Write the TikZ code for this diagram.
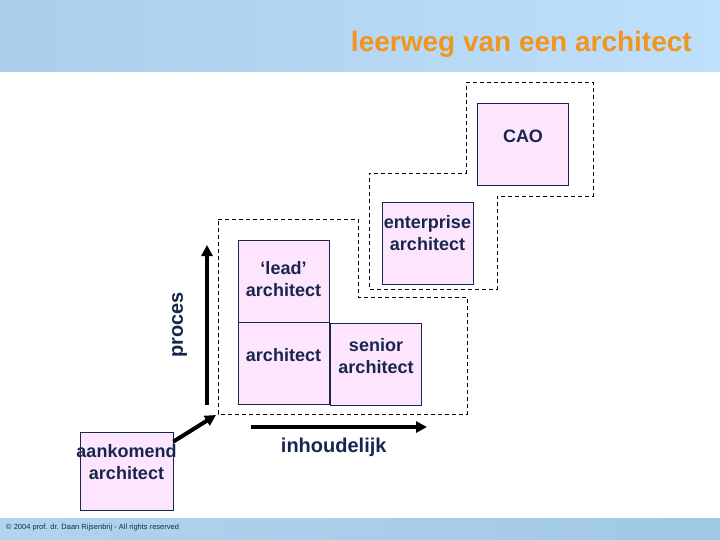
\documentclass[tikz,border=0pt]{standalone}
\usepackage{fontspec}
\setmainfont{Liberation Sans}
\usetikzlibrary{arrows.meta}
\definecolor{navy}{RGB}{24,38,78}
\definecolor{roze}{RGB}{253,229,253}
\definecolor{oranje}{RGB}{240,150,30}
\definecolor{luchtA}{RGB}{172,206,236}
\definecolor{luchtB}{RGB}{190,224,252}
\definecolor{voetA}{RGB}{178,212,238}
\definecolor{voetB}{RGB}{160,200,228}
\tikzset{%
    box/.style={rectangle, draw=navy, line width=0.8pt, fill=roze, minimum width=91pt, minimum height=82pt, inner sep=0pt},
    lbl/.style={text=navy, font=\fontsize{18}{22}\selectfont\bfseries, align=center, inner sep=0pt},
    grens/.style={line width=0.8pt, dash pattern=on 4pt off 3pt},
    pijl/.style={line width=4pt, -{Triangle[length=11pt,width=11pt]}},
}
\begin{document}
\begin{tikzpicture}[x=1pt,y=-1pt]
    \useasboundingbox (0,0) rectangle (720,540);
    % achtergrond
    \shade[left color=luchtA, right color=luchtB] (0,0) rectangle (720,72);
    \shade[left color=voetA, right color=voetB] (0,518) rectangle (720,540);
    \node[anchor=base east, text=oranje, font=\fontsize{28}{32}\selectfont\bfseries, inner sep=0pt] (titel) at (692,52) {leerweg van een architect};
    \node[anchor=west, font=\fontsize{7.5}{9}\selectfont, text=navy, inner sep=0pt] (copy) at (6,528) {\textcopyright{} 2004 prof. dr. Daan Rijsenbrij - All rights reserved};
    % niveaus
    \draw [grens] (466,82)--(593,82)--(593,196)--(497,196)--(497,289)--(369,289)--(369,173)--(466,173)--cycle;
    \draw [grens] (218,219)--(358,219)--(358,297)--(467,297)--(467,414)--(218,414)--cycle;
    % rollen
    \node[box] (cao) at (523,144) {};
    \node[lbl] at ([yshift=8pt]cao) {CAO};
    \node[box] (ent) at (427.5,243) {};
    \node[lbl] at ([yshift=10pt]ent) {enterprise\\architect};
    \node[box] (lead) at (283.5,281) {};
    \node[lbl] at ([yshift=2pt]lead) {`lead'\\architect};
    \node[box] (arch) at (283.5,363) {};
    \node[lbl] at ([yshift=8pt]arch) {architect};
    \node[box] (sen) at (376,364.5) {};
    \node[lbl] at ([yshift=8pt]sen) {senior\\architect};
    \node[box, minimum width=93pt, minimum height=78pt] (aank) at (126.5,471) {};
    \node[lbl] at ([yshift=9pt]aank) {aankomend\\architect};
    % assen
    \coordinate (org) at (218,414);
    \coordinate (pbot) at (207,405);
    \coordinate (ptop) at (207,245);
    \coordinate (hlinks) at (251,427);
    \coordinate (hrechts) at (427,427);
    \draw [pijl] (pbot)--(ptop) node[lbl, midway, left=18pt, rotate=90, anchor=south, font=\fontsize{20}{24}\selectfont\bfseries] (proces) {proces};
    \draw [pijl] ([yshift=-10pt]aank.north east)--([shift={(-2,1)}]org);
    \draw [pijl] (hlinks)--(hrechts) node[lbl, pos=0.47, below=9pt, font=\fontsize{20}{24}\selectfont\bfseries] (inh) {inhoudelijk};
\end{tikzpicture}
\end{document}
